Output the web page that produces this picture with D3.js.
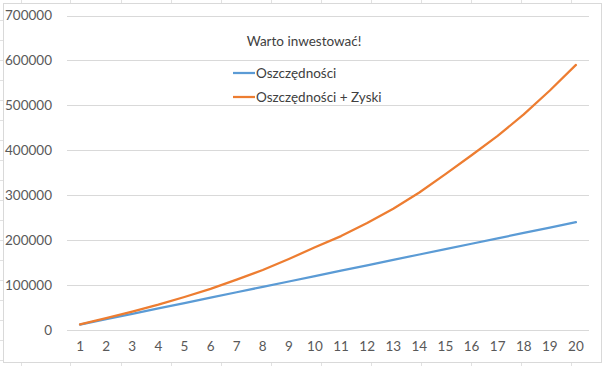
<!DOCTYPE html>
<html><head><meta charset="utf-8">
<script src="https://cdn.jsdelivr.net/npm/d3@7"></script>
<style>html,body{margin:0;padding:0;background:#fff;}svg{display:block;font-family:Lato,"Open Sans",sans-serif;}</style>
</head><body><svg id="c" width="605" height="366"></svg>
<script>
const categories = ["1","2","3","4","5","6","7","8","9","10","11","12","13","14","15","16","17","18","19","20"];
const savings = [12000,24000,36000,48000,60000,72000,84000,96000,108000,120000,132000,144000,156000,168000,180000,192000,204000,216000,228000,240000];
const savingsPlusProfit = [12500,26500,41000,56500,73500,91500,112000,133500,158000,184000,209000,238000,270000,306000,347000,389000,432000,480000,533000,590000];
const yTicks = [0,100000,200000,300000,400000,500000,600000,700000];
const seriesNames = ["Oszczędności","Oszczędności + Zyski"];
const title = "Warto inwestować!";
const colors = ["#5B9BD5","#ED7D31"];

const svg = d3.select("#c");
// spreadsheet background gridlines
const bg = svg.append("g").attr("stroke","#E1E1E1").attr("stroke-width",1);
[21,70,121,171,221,271,321,371,421,471,521,571].forEach(x=>{
  bg.append("line").attr("x1",x+0.5).attr("x2",x+0.5).attr("y1",0).attr("y2",3);
  bg.append("line").attr("x1",x+0.5).attr("x2",x+0.5).attr("y1",363).attr("y2",366);
});
[20,40,60,80,100,120,140,160,180,200,220,240,260,280,300,320,340,360].forEach(y=>{
  bg.append("line").attr("x1",0).attr("x2",3).attr("y1",y+0.5).attr("y2",y+0.5);
});
svg.append("rect").attr("x",3.5).attr("y",3.5).attr("width",598).attr("height",359)
  .attr("fill","#fff").attr("stroke","#D9D9D9").attr("stroke-width",1);

const x = d3.scaleBand().domain(categories).range([67,589]);
const y = d3.scaleLinear().domain([0,700000]).range([330,15.5]);

// gridlines
svg.append("g").selectAll("line").data(yTicks).join("line")
  .attr("x1",67).attr("x2",589)
  .attr("y1",d=>Math.round(y(d))+0.5).attr("y2",d=>Math.round(y(d))+0.5)
  .attr("stroke","#D9D9D9").attr("stroke-width",1);

const yAxis = svg.append("g").attr("transform","translate(52,0)")
  .call(d3.axisLeft(y).tickValues(yTicks).tickFormat(d=>String(d)).tickSize(0).tickPadding(0));
yAxis.select(".domain").remove();
yAxis.selectAll("text").attr("fill","#595959").style("font-size","13.5px").style("font-family","Lato");

const xAxis = svg.append("g").attr("transform","translate(0,341)")
  .call(d3.axisBottom(x).tickSize(0).tickPadding(0));
xAxis.select(".domain").remove();
xAxis.selectAll("text").attr("fill","#595959").style("font-size","13.5px").style("font-family","Lato");

const line = d3.line().x((d,i)=>x(categories[i])+x.bandwidth()/2).y(d=>y(d));
[savings,savingsPlusProfit].forEach((s,k)=>{
  svg.append("path").datum(s).attr("d",line).attr("fill","none")
    .attr("stroke",colors[k]).attr("stroke-width",2.25).attr("stroke-linejoin","round").attr("stroke-linecap","round");
});

svg.append("text").attr("x",304).attr("y",46).attr("text-anchor","middle")
  .attr("fill","#404040").style("font-size","13.5px").text(title);

seriesNames.forEach((n,k)=>{
  const yy = 73 + k*24;
  svg.append("line").attr("x1",233).attr("x2",255).attr("y1",yy).attr("y2",yy)
    .attr("stroke",colors[k]).attr("stroke-width",2.25);
  svg.append("text").attr("x",256).attr("y",yy+4.5).attr("fill","#404040")
    .style("font-size","13.5px").text(n);
});
</script></body></html>
